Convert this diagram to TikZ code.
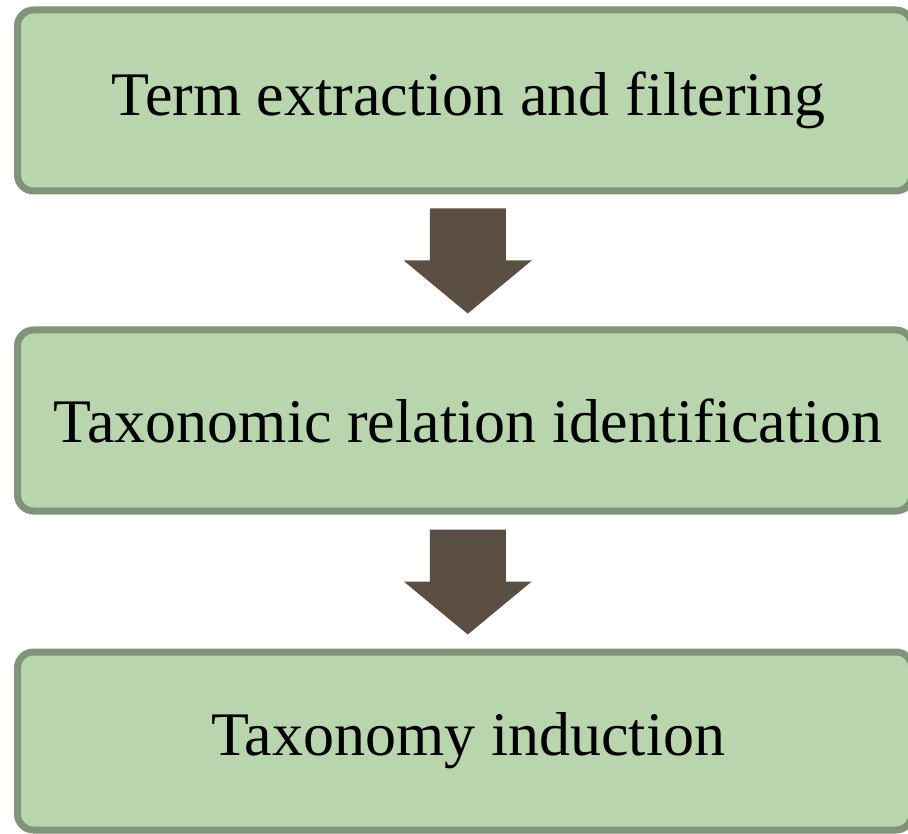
\documentclass[tikz,border=0pt]{standalone}
\usepackage{fontspec}
\setmainfont{Liberation Serif}
\usetikzlibrary{calc}
\definecolor{boxfill}{RGB}{185,213,174}
\definecolor{boxline}{RGB}{127,148,120}
\definecolor{arrowc}{RGB}{91,79,67}
\tikzset{
  stagebox/.style={draw=boxline, fill=boxfill, line width=7pt, rounded corners=16pt,
    minimum width=894.5pt, inner sep=0pt, font=\fontsize{62}{72}\selectfont},
  pics/downarrow/.style={code={
    \fill[arrowc] (-38,0) -- (38,0) -- (38,52) -- (64,52) -- (0,105) -- (-64,52) -- (-38,52) -- cycle;
  }}
}
\begin{document}
\begin{tikzpicture}[x=1pt,y=-1pt]
\useasboundingbox (0,0) rectangle (908,834);
\begin{scope}
\clip (0,0) rectangle (908,834);
\node[stagebox, minimum height=181pt] (b1) at (464.75,100.5) {\hspace*{7pt}Term extraction and filtering};
\node[stagebox, minimum height=181pt] (b2) at (464.75,420.5) {\hspace*{7pt}Taxonomic relation identification};
\node[stagebox, minimum height=178pt] (b3) at (464.75,741) {\hspace*{7pt}Taxonomy induction};
\end{scope}
\coordinate (a1) at ($(b1.south)!0.5!(b2.north)+(3,-52)$);
\coordinate (a2) at ($(b2.south)!0.5!(b3.north)+(3,-52)$);
\pic at (a1) {downarrow};
\pic at (a2) {downarrow};
\end{tikzpicture}
\end{document}
